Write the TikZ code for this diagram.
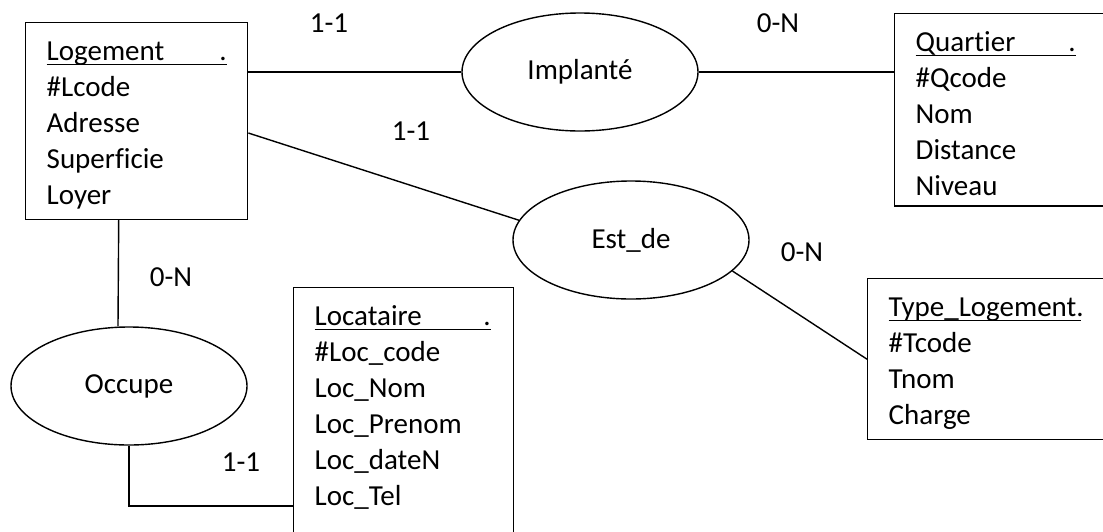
\documentclass[tikz,border=0pt]{standalone}
\usepackage{fontspec}
\setmainfont{Carlito}[Ligatures=NoCommon]
\usetikzlibrary{shapes.geometric}

\newcommand{\enttitle}[2]{\rule{0pt}{28pt}\rlap{\rule[-4.5pt]{#1}{1.3pt}}\makebox[#1][l]{#2\hfill.}}

\begin{document}
\begin{tikzpicture}[x=1pt,y=-1pt,line width=1.4pt,
  every node/.style={font=\fontsize{29}{36}\selectfont},
  entity/.style={draw,rectangle,anchor=north west,align=left,inner xsep=21pt,inner ysep=10pt},
  relation/.style={draw,ellipse,minimum width=236pt,minimum height=118pt,inner sep=0pt},
  card/.style={inner sep=0pt}]
\useasboundingbox (0,0) rectangle (1103,531);
\clip (0,0) rectangle (1103,531);

\node[entity,text width=180pt] (logement) at (25,22) {\enttitle{180pt}{Logement}\\
\#Lcode\\ Adresse\\ Superficie\\ Loyer};
\node[entity,text width=200pt] (quartier) at (894,13) {\enttitle{160pt}{Quartier}\\
\#Qcode\\ Nom\\ Distance\\ Niveau};
\node[entity,text width=220pt] (typelog) at (867,278) {\enttitle{192pt}{Type\_Logement}\\
\#Tcode\\ Tnom\\ Charge};
\node[entity,text width=178pt] (locataire) at (293,287) {\enttitle{176pt}{Locataire}\\
\#Loc\_code\\ Loc\_Nom\\ Loc\_Prenom\\ Loc\_dateN\\ Loc\_Tel\\ \mbox{}\\ \mbox{}};

\node[relation] (implante) at (580,72) {Implanté};
\node[relation] (estde) at (631,240) {Est\_de};
\node[relation] (occupe) at (129,386) {Occupe};

\draw (logement.east |- implante.west) -- (implante.west);
\draw (implante.east) -- (quartier.west |- implante.east);
\draw ([yshift=-12pt]logement.east) -- (estde.170);
\draw (estde.343) -- (typelog.west);
\draw ([xshift=-18pt]logement.south) -- ([xshift=-11pt]occupe.north);
\draw (occupe.south) |- ([yshift=-219pt]locataire.north west);

\node[card] (cimpl) at (329,23) {1-1};
\node[card] (cimpq) at (778,23) {0-N};
\node[card] (cestl) at (411,131) {1-1};
\node[card] (cestt) at (802,252) {0-N};
\node[card] (coccl) at (171,277) {0-N};
\node[card] (coccd) at (241,462) {1-1};
\end{tikzpicture}
\end{document}
